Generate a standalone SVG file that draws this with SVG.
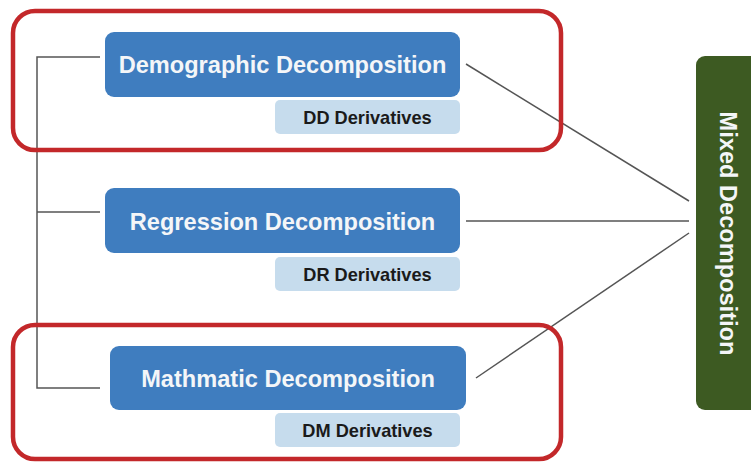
<svg xmlns="http://www.w3.org/2000/svg" width="751" height="463" viewBox="0 0 751 463">
<style>
.main{fill:#3f7dbf}
.sub{fill:#c6dced}
.mt{font-family:"Liberation Sans",Arial,sans-serif;font-weight:bold;font-size:23.6px;fill:#f4f6f8;text-anchor:middle}
.st{font-family:"Liberation Sans",Arial,sans-serif;font-weight:bold;font-size:18.2px;fill:#1a1a1a;text-anchor:middle}
.conn{stroke:#555;stroke-width:1.5;fill:none}
.hl{fill:none;stroke:#c3282a;stroke-width:4.5}
</style>
<rect width="751" height="463" fill="#fff"/>
<g id="connectors">
<polyline class="conn" points="100,57 37,57 37,388 100,388"/>
<line class="conn" x1="37" y1="212" x2="100" y2="212"/>
<line class="conn" x1="466" y1="64" x2="689" y2="201"/>
<line class="conn" x1="466" y1="221" x2="689" y2="221"/>
<line class="conn" x1="476" y1="378" x2="689" y2="233"/>
</g>
<g id="demographic">
<rect class="main" x="105" y="32" width="355" height="65" rx="9"/>
<text class="mt" x="282.5" y="72.5">Demographic Decomposition</text>
</g>
<g id="dd">
<rect class="sub" x="275" y="100" width="185" height="34" rx="5"/>
<text class="st" x="367.5" y="124">DD Derivatives</text>
</g>
<g id="regression">
<rect class="main" x="105" y="188" width="355" height="65" rx="9"/>
<text class="mt" x="282.5" y="229.5">Regression Decomposition</text>
</g>
<g id="dr">
<rect class="sub" x="275" y="257" width="185" height="34" rx="5"/>
<text class="st" x="367.5" y="281">DR Derivatives</text>
</g>
<g id="mathmatic">
<rect class="main" x="110" y="346" width="356" height="64" rx="9"/>
<text class="mt" x="288" y="386.5">Mathmatic Decomposition</text>
</g>
<g id="dm">
<rect class="sub" x="275" y="413" width="185" height="34" rx="5"/>
<text class="st" x="367.5" y="437">DM Derivatives</text>
</g>
<g id="mixed">
<rect x="696" y="56" width="70" height="354" rx="9" fill="#3d5a22"/>
<text class="mt" transform="translate(720,233.5) rotate(90)" x="0" y="0">Mixed Decomposition</text>
</g>
<g id="highlight-top">
<rect class="hl" x="13" y="11" width="548" height="139" rx="22"/>
</g>
<g id="highlight-bottom">
<rect class="hl" x="13" y="325" width="548" height="134" rx="22"/>
</g>
</svg>
